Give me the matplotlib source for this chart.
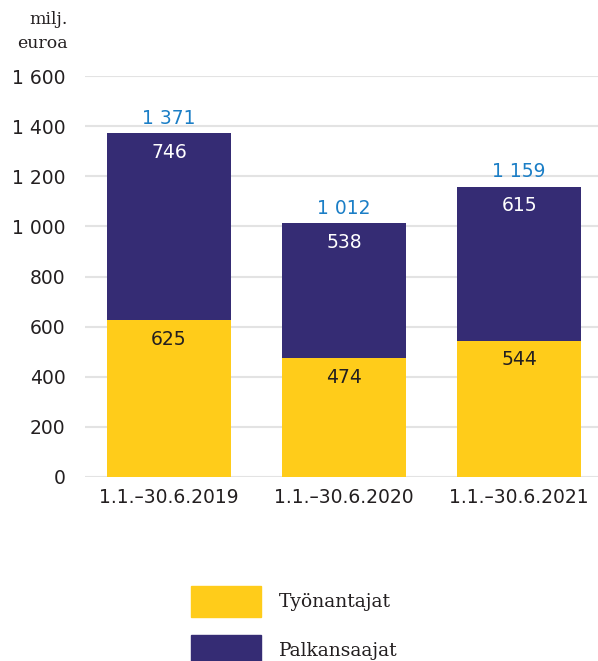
import matplotlib.pyplot as plt
from matplotlib.patches import Rectangle

# data
periods = ["1.1.–30.6.2019", "1.1.–30.6.2020", "1.1.–30.6.2021"]
tyonantajat = [625, 474, 544]
palkansaajat = [746, 538, 615]
totals = [a + b for a, b in zip(tyonantajat, palkansaajat)]
yticks = [0, 200, 400, 600, 800, 1000, 1200, 1400, 1600]

yellow = "#FFCC1A"
purple = "#352C74"
blue = "#1B7EC6"
dark = "#231F20"

def fmt(v):
    return f"{v:,}".replace(",", " ")

fig = plt.figure(figsize=(5.98, 6.61), dpi=100)
ax = fig.add_axes([85 / 598, 184 / 661, 513 / 598, 401 / 661])

x = range(len(periods))
ax.bar(x, tyonantajat, width=0.71, color=yellow, zorder=3)
ax.bar(x, palkansaajat, width=0.71, bottom=tyonantajat, color=purple, zorder=3)

for i in x:
    ax.annotate(str(tyonantajat[i]), (i, tyonantajat[i]), xytext=(0, -7),
                textcoords="offset points", ha="center", va="top",
                fontsize=13.5, color=dark, zorder=4)
    ax.annotate(str(palkansaajat[i]), (i, totals[i]), xytext=(0, -7),
                textcoords="offset points", ha="center", va="top",
                fontsize=13.5, color="white", zorder=4)
    ax.annotate(fmt(totals[i]), (i, totals[i]), xytext=(0, 4),
                textcoords="offset points", ha="center", va="bottom",
                fontsize=13.5, color=blue, zorder=4)

ax.set_xlim(-0.48, 2.45)
ax.set_ylim(0, 1600)
ax.set_yticks(yticks)
ax.set_yticklabels([fmt(v) for v in yticks], fontsize=13.5, color=dark)
ax.set_xticks(list(x))
ax.set_xticklabels(periods, fontsize=13.5, color=dark)
ax.tick_params(axis="both", length=0)
ax.tick_params(axis="y", pad=14)
ax.tick_params(axis="x", pad=8)
ax.grid(axis="y", color="#E3E3E3", linewidth=1.5, zorder=0)
for s in ax.spines.values():
    s.set_visible(False)

# unit label
fig.text(68 / 598, 1 - 19 / 661, "milj.", ha="right", va="center",
         fontsize=12.5, family="DejaVu Serif", color=dark)
fig.text(68 / 598, 1 - 44 / 661, "euroa", ha="right", va="center",
         fontsize=12.5, family="DejaVu Serif", color=dark)

# legend
for yy, c, lab in [(586, yellow, "Työnantajat"), (635, purple, "Palkansaajat")]:
    fig.add_artist(Rectangle((191 / 598, 1 - (yy + 31) / 661), 70 / 598, 31 / 661,
                             transform=fig.transFigure, color=c))
    fig.text(279 / 598, 1 - (yy + 16) / 661, lab, ha="left", va="center",
             fontsize=13.5, family="DejaVu Serif", color=dark)

fig.savefig("out.png", dpi=100)
